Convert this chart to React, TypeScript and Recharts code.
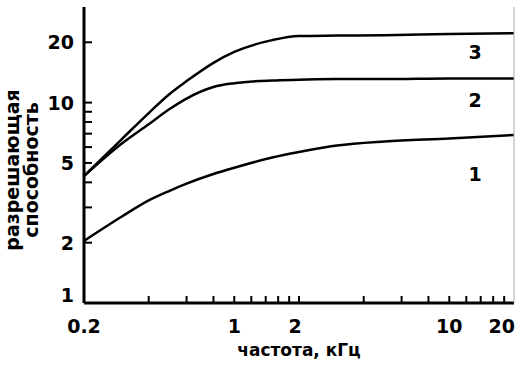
import React from "react";
import { LineChart, Line, XAxis, YAxis, ReferenceDot } from "recharts";

// Frequency points, kHz
const freq = [0.2, 0.3, 0.4, 0.5, 0.6, 0.8, 1, 1.5, 2, 3, 5, 10, 20];
// Resolving power curves
const curve1 = [2.04, 2.7, 3.25, 3.63, 3.94, 4.4, 4.73, 5.32, 5.67, 6.11, 6.4, 6.62, 6.89];
const curve2 = [4.3, 6.25, 7.8, 9.29, 10.48, 11.96, 12.5, 12.9, 13.0, 13.1, 13.1, 13.2, 13.2];
const curve3 = [4.3, 6.58, 8.87, 11.04, 12.8, 15.8, 17.9, 20.5, 21.5, 21.6, 21.7, 22.0, 22.2];

const xTicks = [0.2, 0.4, 0.6, 0.8, 1, 1.2, 1.4, 1.6, 1.8, 2, 4, 6, 8, 10, 12, 14, 16, 18, 20];
const xLabels = [0.2, 1, 2, 10, 20];
const yTicks = [1, 2, 3, 4, 5, 6, 7, 8, 9, 10, 20];
const yLabels = [1, 2, 5, 10, 20];

const curveTags = [
  { name: "1", x: 13.2, y: 4.4 },
  { name: "2", x: 13.2, y: 10.3 },
  { name: "3", x: 13.2, y: 17.9 },
];

const xTitle = "частота, кГц";
const yTitle1 = "разрешающая";
const yTitle2 = "способность";

const data = freq.map((f, i) => ({ f, c1: curve1[i], c2: curve2[i], c3: curve3[i] }));

const FONT = "'DejaVu Sans', 'Liberation Sans', Arial, sans-serif";

const XTick = (props: any) => {
  const { x, y, payload } = props;
  const v = payload.value;
  let anchor: any = "middle";
  let tx = x;
  if (v === 20) {
    anchor = "end";
    tx = x + 1;
  }
  if (v === 2) tx = x - 4;
  return (
    <g>
      {v !== 0.2 && v !== 20 && (
        <line x1={x} x2={x} y1={y} y2={y - 7} stroke="#000" strokeWidth={2} />
      )}
      {xLabels.includes(v) && (
        <text x={tx} y={y + 30} textAnchor={anchor} fontSize={19} fontWeight="bold" fontFamily={FONT} fill="#000">
          {String(v)}
        </text>
      )}
    </g>
  );
};

const YTick = (props: any) => {
  const { x, y, payload } = props;
  const v = payload.value;
  const ly = v === 1 ? y - 8 : y;
  return (
    <g>
      {v !== 1 && <line x1={x} x2={x + 8} y1={y} y2={y} stroke="#000" strokeWidth={2} />}
      {yLabels.includes(v) && (
        <text x={x - 10} y={ly + 7} textAnchor="end" fontSize={19} fontWeight="bold" fontFamily={FONT} fill="#000">
          {String(v)}
        </text>
      )}
    </g>
  );
};

const YTitle = (props: any) => {
  const vb = props.viewBox || { x: 0, y: 7, width: 84, height: 296 };
  const cy = vb.y + vb.height / 2 + 15;
  const x1 = 19;
  const x2 = 38;
  return (
    <g>
      <text x={x1} y={cy} transform={`rotate(-90 ${x1} ${cy})`} textAnchor="middle" fontSize={19} fontWeight="bold" fontFamily={FONT} fill="#000">
        {yTitle1}
      </text>
      <text x={x2} y={cy} transform={`rotate(-90 ${x2} ${cy})`} textAnchor="middle" fontSize={19} fontWeight="bold" fontFamily={FONT} fill="#000">
        {yTitle2}
      </text>
    </g>
  );
};

const XTitle = (props: any) => {
  const vb = props.viewBox || { x: 84, y: 303, width: 430, height: 62 };
  const cx = vb.x + vb.width / 2;
  return (
    <text x={cx} y={356} textAnchor="middle" fontSize={17} fontWeight="bold" fontFamily={FONT} fill="#000">
      {xTitle}
    </text>
  );
};

const TagLabel = (props: any) => {
  const { viewBox, value } = props;
  const cx = viewBox.x + viewBox.width / 2;
  const cy = viewBox.y + viewBox.height / 2;
  return (
    <text x={cx} y={cy + 7} textAnchor="middle" fontSize={19} fontWeight="bold" fontFamily={FONT} fill="#000">
      {value}
    </text>
  );
};

export default function App() {
  return (
    <div style={{ position: "absolute", left: 0, top: 0, width: 515, height: 365, background: "#fff" }}>
      <LineChart width={515} height={365} data={data} margin={{ top: 7, right: 0, left: 0, bottom: 0 }}>
        <XAxis
          dataKey="f"
          type="number"
          scale="log"
          domain={[0.2, 20]}
          allowDataOverflow
          ticks={xTicks}
          interval={0}
          tickSize={0}
          tickMargin={0}
          tickLine={false}
          tick={<XTick />}
          height={62}
          axisLine={{ stroke: "#000", strokeWidth: 3 }}
          label={{ content: <XTitle /> }}
        />
        <XAxis
          xAxisId="top"
          orientation="top"
          dataKey="f"
          type="number"
          scale="log"
          domain={[0.2, 20]}
          allowDataOverflow
          height={0}
          tick={false}
          tickLine={false}
          axisLine={{ stroke: "#000", strokeWidth: 3 }}
        />
        <YAxis
          type="number"
          scale="log"
          domain={[1, 30]}
          allowDataOverflow
          ticks={yTicks}
          interval={0}
          tickSize={0}
          tickMargin={0}
          tickLine={false}
          tick={<YTick />}
          width={84}
          axisLine={{ stroke: "#000", strokeWidth: 3 }}
          label={{ content: <YTitle /> }}
        />
        <YAxis
          yAxisId="right"
          orientation="right"
          type="number"
          scale="log"
          domain={[1, 30]}
          allowDataOverflow
          width={1}
          tick={false}
          tickLine={false}
          axisLine={{ stroke: "#aaa", strokeWidth: 1 }}
        />
        <Line type="monotone" dataKey="c1" stroke="#000" strokeWidth={2.5} dot={false} isAnimationActive={false} />
        <Line type="monotone" dataKey="c2" stroke="#000" strokeWidth={2.5} dot={false} isAnimationActive={false} />
        <Line type="monotone" dataKey="c3" stroke="#000" strokeWidth={2.5} dot={false} isAnimationActive={false} />
        {curveTags.map((t) => (
          <ReferenceDot
            key={t.name}
            x={t.x}
            y={t.y}
            r={0.5}
            fill="none"
            stroke="none"
            ifOverflow="visible"
            label={{ value: t.name, content: <TagLabel /> }}
          />
        ))}
      </LineChart>
    </div>
  );
}
